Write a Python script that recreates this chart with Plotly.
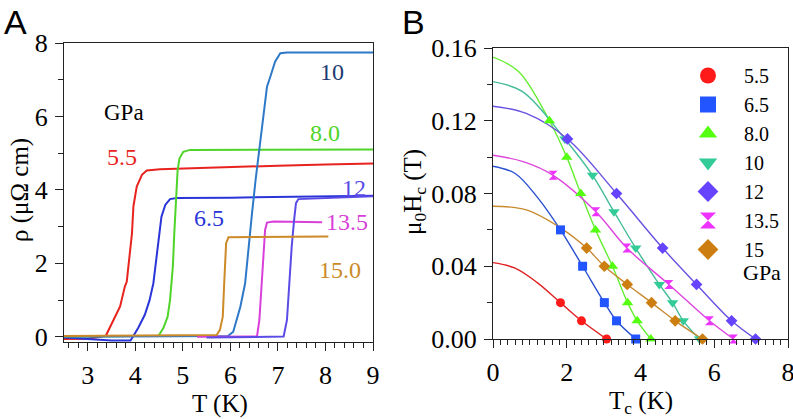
import plotly.graph_objects as go

# ---------- panel A: resistivity vs temperature ----------
pressures_a = ["5.5", "6.5", "8.0", "10", "12", "13.5", "15.0"]

T_55 = [2.5, 3.0, 3.38, 3.47, 3.57, 3.68, 3.78, 3.82, 3.87, 3.93, 3.96, 4.03, 4.14, 4.24, 4.52, 5.0, 6.0, 7.0, 8.0, 9.0]
R_55 = [-0.06, -0.05, 0.03, 0.28, 0.51, 0.83, 1.37, 1.5, 2.1, 2.82, 3.55, 4.09, 4.41, 4.53, 4.56, 4.58, 4.63, 4.66, 4.69, 4.72]

T_65 = [2.5, 3.5, 3.9, 3.95, 4.06, 4.2, 4.3, 4.38, 4.45, 4.51, 4.55, 4.63, 4.73, 4.87, 6.0, 9.0]
R_65 = [-0.02, -0.1, -0.1, 0.01, 0.24, 0.6, 1.0, 1.46, 2.19, 2.82, 3.27, 3.59, 3.75, 3.78, 3.79, 3.84]

T_80 = [2.5, 4.49, 4.59, 4.68, 4.73, 4.79, 4.82, 4.86, 4.89, 4.93, 5.01, 5.15, 9.0]
R_80 = [0.0, 0.03, 0.24, 0.55, 1.0, 1.91, 2.82, 3.73, 4.54, 4.86, 5.04, 5.09, 5.1]

T_10 = [2.5, 5.95, 6.06, 6.21, 6.31, 6.38, 6.45, 6.53, 6.63, 6.7, 6.77, 6.84, 6.94, 7.05, 7.19, 9.0]
R_10 = [0.0, 0.02, 0.14, 0.82, 1.46, 2.46, 3.3, 4.27, 5.36, 6.18, 6.81, 7.08, 7.49, 7.72, 7.74, 7.74]

T_12 = [5.5, 7.12, 7.19, 7.24, 7.29, 7.34, 7.38, 7.43, 7.75, 9.0]
R_12 = [-0.02, 0.01, 0.46, 1.55, 2.46, 3.18, 3.64, 3.75, 3.77, 3.83]

T_135 = [5.3, 6.56, 6.61, 6.66, 6.70, 6.73, 6.77, 6.91, 7.93]
R_135 = [0.0, 0.01, 0.46, 1.55, 2.46, 2.91, 3.11, 3.14, 3.12]

T_150 = [2.5, 5.71, 5.78, 5.84, 5.87, 5.89, 5.91, 5.96, 8.06]
R_150 = [0.02, 0.05, 0.19, 0.55, 1.46, 2.19, 2.55, 2.71, 2.73]

colors_a = ["#e8231e", "#2a35d8", "#4fd42a", "#2e78c8", "#5a4be6", "#d93fd9", "#cc8a28"]

# label positions (T, rho) for panel A
label_T = [3.71, 5.54, 8.0, 8.14, 8.59, 8.45, 8.31]
label_R = [4.91, 3.23, 5.54, 7.22, 4.05, 3.14, 1.82]
label_colors = ["#e8231e", "#2a35d8", "#4fd42a", "#1c3a70", "#5a4be6", "#d93fd9", "#cc8a28"]

# ---------- panel B: critical field vs Tc ----------
pressures_b = ["5.5", "6.5", "8.0", "10", "12", "13.5", "15"]

Tc_55 = [1.83, 2.4, 3.08]
H_55 = [0.02, 0.01, 0.0]
Tc_65 = [1.83, 2.43, 3.02, 3.35, 3.87]
H_65 = [0.06, 0.04, 0.02, 0.01, 0.0]
Tc_80 = [1.53, 2.0, 2.38, 2.78, 3.24, 3.65, 3.91, 4.28]
H_80 = [0.12, 0.10, 0.08, 0.06, 0.04, 0.02, 0.01, 0.0]
Tc_10 = [1.95, 2.7, 3.28, 3.87, 4.51, 4.87, 5.16, 5.6]
H_10 = [0.11, 0.09, 0.07, 0.05, 0.03, 0.02, 0.01, 0.0]
Tc_12 = [2.02, 3.35, 4.6, 5.52, 6.47, 7.12]
H_12 = [0.11, 0.08, 0.05, 0.03, 0.01, 0.0]
Tc_135 = [1.63, 2.79, 3.63, 4.77, 5.87, 6.52]
H_135 = [0.09, 0.07, 0.05, 0.03, 0.01, 0.0]
Tc_15 = [2.54, 3.02, 3.64, 4.3, 4.94, 5.68]
H_15 = [0.05, 0.04, 0.03, 0.02, 0.01, 0.0]

# fit curves
fitT_55 = [0, 0.6, 1.2, 1.83, 2.4, 3.08]
fitH_55 = [0.042, 0.039, 0.031, 0.020, 0.010, 0.0]
fitT_65 = [0, 0.6, 1.2, 1.83, 2.43, 3.02, 3.35, 3.87]
fitH_65 = [0.095, 0.091, 0.078, 0.06, 0.04, 0.02, 0.01, 0.0]
fitT_80 = [0, 0.7, 1.53, 2.0, 2.38, 2.78, 3.24, 3.65, 3.91, 4.28]
fitH_80 = [0.155, 0.147, 0.12, 0.10, 0.08, 0.06, 0.04, 0.02, 0.01, 0.0]
fitT_10 = [0, 0.8, 1.95, 2.7, 3.28, 3.87, 4.51, 4.87, 5.16, 5.6]
fitH_10 = [0.1415, 0.136, 0.11, 0.09, 0.07, 0.05, 0.03, 0.02, 0.01, 0.0]
fitT_12 = [0, 0.9, 2.02, 3.35, 4.6, 5.52, 6.47, 7.12]
fitH_12 = [0.128, 0.124, 0.11, 0.08, 0.05, 0.03, 0.01, 0.0]
fitT_135 = [0, 0.82, 1.63, 2.79, 3.63, 4.77, 5.87, 6.52]
fitH_135 = [0.101, 0.0975, 0.09, 0.07, 0.05, 0.03, 0.01, 0.0]
fitT_15 = [0, 0.9, 1.84, 2.54, 3.02, 3.64, 4.3, 4.94, 5.68]
fitH_15 = [0.073, 0.071, 0.061, 0.05, 0.04, 0.03, 0.02, 0.01, 0.0]

marker_colors = ["#ff1a1a", "#2255ff", "#55ff11", "#33cc99", "#6644ff", "#ee33ff", "#cc7f10"]
line_colors_b = ["#e02020", "#2850d0", "#66ee33", "#44bb99", "#6a50e0", "#dd44dd", "#c88a30"]
symbols = ["circle", "square", "triangle-up", "triangle-down", "diamond", "hourglass", "diamond"]
marker_sizes = [9, 9, 10, 10, 9, 9, 9]

W, H = 793, 419
serif = "Liberation Serif"
sans = "Liberation Sans"


def px(x):
    return x / W


def py(y):
    return 1 - y / H


fig = go.Figure()

curves_a = [(T_55, R_55), (T_65, R_65), (T_80, R_80), (T_10, R_10),
            (T_12, R_12), (T_135, R_135), (T_150, R_150)]
draw_order = [0, 1, 2, 3, 5, 4, 6]
for i in draw_order:
    tx, ry = curves_a[i]
    fig.add_trace(go.Scatter(x=tx, y=ry, mode="lines", xaxis="x", yaxis="y",
                             line=dict(color=colors_a[i], width=2),
                             showlegend=False, hoverinfo="skip"))

fits_b = [(fitT_55, fitH_55), (fitT_65, fitH_65), (fitT_80, fitH_80), (fitT_10, fitH_10),
          (fitT_12, fitH_12), (fitT_135, fitH_135), (fitT_15, fitH_15)]
points_b = [(Tc_55, H_55), (Tc_65, H_65), (Tc_80, H_80), (Tc_10, H_10),
            (Tc_12, H_12), (Tc_135, H_135), (Tc_15, H_15)]

for i, (fx, fy) in enumerate(fits_b):
    fig.add_trace(go.Scatter(x=fx, y=fy, mode="lines", xaxis="x2", yaxis="y2",
                             line=dict(color=line_colors_b[i], width=1.4, shape="spline", smoothing=1.0),
                             showlegend=False, hoverinfo="skip"))

for i, (tx, hy) in enumerate(points_b):
    fig.add_trace(go.Scatter(x=tx, y=hy, mode="markers", xaxis="x2", yaxis="y2",
                             marker=dict(color=marker_colors[i], symbol=symbols[i], size=marker_sizes[i],
                                         line=dict(width=0)),
                             showlegend=False, cliponaxis=False))

# legend-only entries with bigger symbols
for i, name in enumerate(pressures_b):
    fig.add_trace(go.Scatter(x=[None], y=[None], mode="markers", xaxis="x2", yaxis="y2",
                             name=name,
                             marker=dict(color=marker_colors[i], symbol=symbols[i], size=16,
                                         line=dict(width=0))))

tickfont = dict(family=serif, size=26, color="black")
common = dict(showgrid=False, zeroline=False, showline=True, linecolor="#222", linewidth=1.3,
              mirror=True, ticks="outside", ticklen=8, tickwidth=1.3, tickcolor="#222",
              tickfont=tickfont, ticklabelstandoff=2, automargin=False,
              ticklabeloverflow="allow")

fig.update_layout(
    width=W, height=H,
    margin=dict(l=0, r=0, t=0, b=0, pad=0, autoexpand=False),
    paper_bgcolor="white", plot_bgcolor="white",
    font=dict(family=serif, color="black"),
    xaxis=dict(domain=[px(64), px(373)], range=[2.5, 9], dtick=1, tick0=3, anchor="y",
               minor=dict(dtick=0.2, ticks="outside", ticklen=5, tickcolor="#222"), **common),
    yaxis=dict(domain=[py(342), py(43)], range=[-0.14, 8], dtick=2, tick0=0, anchor="x",
               minor=dict(dtick=1, ticks="outside", ticklen=5, tickcolor="#222"), **common),
    xaxis2=dict(domain=[px(493), px(788)], range=[0, 8], dtick=2, tick0=0, anchor="y2",
                minor=dict(dtick=0.2, ticks="outside", ticklen=5, tickcolor="#222"), **common),
    yaxis2=dict(domain=[py(339), py(48)], range=[0, 0.16], dtick=0.04, tick0=0,
                tickformat=".2f", anchor="x2",
                minor=dict(dtick=0.02, ticks="outside", ticklen=5, tickcolor="#222"), **common),
    legend=dict(x=px(672), y=py(56), xanchor="left", yanchor="top",
                bgcolor="rgba(0,0,0,0)", itemwidth=62,
                font=dict(family=serif, size=20, color="black"),
                tracegroupgap=0),
    showlegend=True,
)

ann = []
# curve labels panel A
for i, lab in enumerate(pressures_a):
    ann.append(dict(x=label_T[i], y=label_R[i], xref="x", yref="y", text=lab, showarrow=False,
                    xanchor="center", yanchor="middle",
                    font=dict(family=serif, size=24, color=label_colors[i])))
ann.append(dict(x=3.77, y=6.12, xref="x", yref="y", text="GPa", showarrow=False,
                xanchor="center", yanchor="middle",
                font=dict(family=serif, size=23, color="black")))


def paper_text(x, y, text, size, family=serif, angle=0, xanchor="center"):
    return dict(x=px(x), y=py(y), xref="paper", yref="paper", text=text, textangle=angle,
                xanchor=xanchor, yanchor="middle", showarrow=False,
                font=dict(family=family, size=size, color="black"))


# legend footer panel B
ann.append(paper_text(741, 272, "GPa", 22, xanchor="left"))
# axis titles
ann.append(paper_text(220, 404, "T (K)", 25))
ann.append(paper_text(641, 402, "T<sub>c</sub> (K)", 25))
ann.append(paper_text(20, 190, "ρ (μΩ cm)", 25, angle=-90))
ann.append(paper_text(415, 192, "μ<sub>0</sub>H<sub>c</sub> (T)", 25, angle=-90))
# panel letters
ann.append(paper_text(15, 22, "A", 34, family=sans))
ann.append(paper_text(413, 22, "B", 34, family=sans))
fig.update_layout(annotations=ann)

# drop the default 8px body margin of the page so the figure sits at the window corner
fig.write_html("out.html", config={"displayModeBar": False},
               post_script="document.body.style.margin='0px';")
